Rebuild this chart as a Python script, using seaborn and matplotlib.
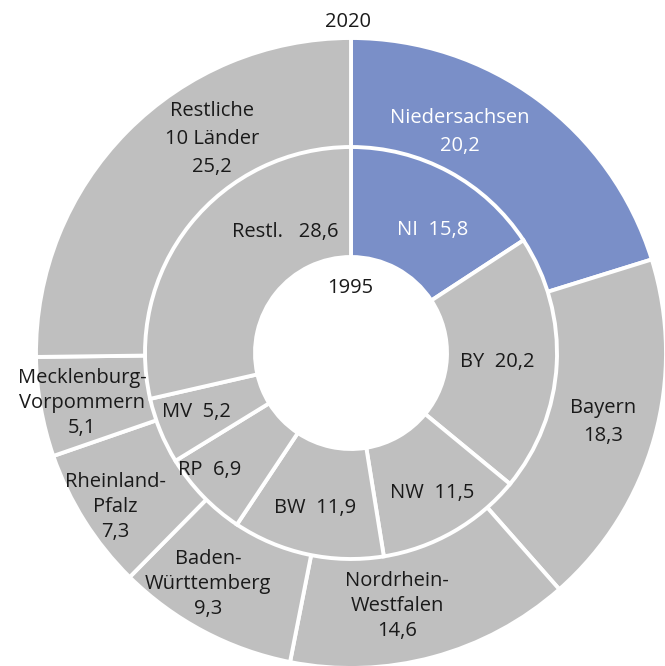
import matplotlib
matplotlib.use('Agg')
import matplotlib.pyplot as plt
import seaborn as sns

sns.set_theme(style="white")
plt.rcParams['font.family'] = ['Open Sans', 'DejaVu Sans']

# 2020 (outer ring), clockwise from top
outer_labels = ["Niedersachsen", "Bayern", "Nordrhein-\nWestfalen", "Baden-\nWürttemberg",
                "Rheinland-\nPfalz", "Mecklenburg-\nVorpommern", "Restliche\n10 Länder"]
outer_vals = [20.2, 18.3, 14.6, 9.3, 7.3, 5.1, 25.2]

# 1995 (inner ring)
inner_labels = ["NI", "BY", "NW", "BW", "RP", "MV", "Restl. "]
inner_vals = [15.8, 20.2, 11.5, 11.9, 6.9, 5.2, 28.6]

gray = "#bfbfbf"
blue = "#7a8fc8"
colors = [blue] + [gray] * 6

# label placement (pixels relative to centre)
outer_pos = [(109, 221), (252, -69), (46, -253), (-143, -231), (-236, -154), (-269, -50), (-139, 214)]
outer_ls = [1.55, 1.55, 1.35, 1.35, 1.35, 1.35, 1.55]
inner_pos = [(82, 123), (146, -9), (81, -140), (-36, -155), (-141, -117), (-155, -59), (-66, 121)]

fig = plt.figure(figsize=(6.65, 6.66), dpi=100)
ax = fig.add_axes([0, 0, 1, 1])

wp = dict(edgecolor='white', linewidth=2.8)
ax.pie(outer_vals, radius=315, colors=colors, startangle=90, counterclock=False,
       wedgeprops=dict(width=110, **wp))
ax.pie(inner_vals, radius=206, colors=colors, startangle=90, counterclock=False,
       wedgeprops=dict(width=110, **wp))
ax.set_xlim(-351, 314)
ax.set_ylim(-313, 353)
ax.set_aspect('equal')
ax.axis('off')

fs = 14.5
for i, (lab, v) in enumerate(zip(outer_labels, outer_vals)):
    c = 'white' if i == 0 else '#1a1a1a'
    txt = lab + "\n" + ("%.1f" % v).replace('.', ',')
    ax.text(*outer_pos[i], txt, ha='center', va='center', fontsize=fs, color=c,
            linespacing=outer_ls[i])

for i, (lab, v) in enumerate(zip(inner_labels, inner_vals)):
    c = 'white' if i == 0 else '#1a1a1a'
    txt = lab + "  " + ("%.1f" % v).replace('.', ',')
    ax.text(*inner_pos[i], txt, ha='center', va='center', fontsize=fs, color=c)

ax.text(-1, 65, "1995", ha='center', va='center', fontsize=fs, color='#1a1a1a')
ax.text(-3, 331, "2020", ha='center', va='center', fontsize=fs, color='#1a1a1a')

fig.savefig("out.png", dpi=100)
